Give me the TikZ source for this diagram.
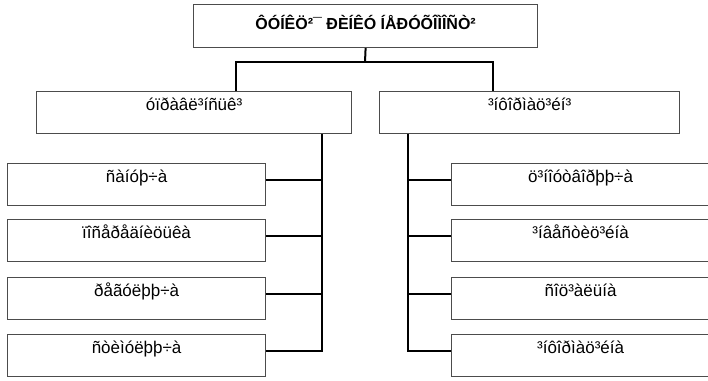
\documentclass[tikz,border=0pt]{standalone}
\usepackage{fontspec}
\setmainfont{Liberation Sans}
\usetikzlibrary{calc}
\tikzset{
  boxbase/.style={draw=black!70, line width=1.2pt, fill=white, inner sep=0pt, anchor=north west, align=center},
  titlebox/.style={boxbase, font=\fontsize{16}{19}\selectfont\bfseries, text height=24.5pt, text depth=18.5pt},
  midbox/.style={boxbase, font=\fontsize{17}{20}\selectfont, text height=19pt, text depth=23pt},
  leafbox/.style={boxbase, font=\fontsize{17}{20}\selectfont, text height=19pt, text depth=23pt},
  conn/.style={draw=black, line width=2pt}
}
\begin{document}
\begin{tikzpicture}[x=1pt,y=-1pt]
\useasboundingbox (0,0) rectangle (708,380);
\clip (0,0) rectangle (708,380);
\fill[white] (0,0) rectangle (708,380);

% top
\node[titlebox, minimum width=344pt] (top) at (193,4) {ÔÓÍÊÖ²¯ ÐÈÍÊÓ ÍÅÐÓÕÎÌÎÑÒ²};
% level 2
\node[midbox, minimum width=315pt] (lbox) at (36,91) {óïðàâë³íñüê³};
\node[midbox, minimum width=300pt] (rbox) at (379,91) {³íôîðìàö³éí³};
% left leaves
\node[leafbox, minimum width=258pt] (l1) at (7,163) {ñàíóþ÷à};
\node[leafbox, minimum width=258pt] (l2) at (7,219) {ïîñåðåäíèöüêà};
\node[leafbox, minimum width=258pt] (l3) at (7,277) {ðåãóëþþ÷à};
\node[leafbox, minimum width=258pt] (l4) at (7,334) {ñòèìóëþþ÷à};
% right leaves
\node[leafbox, minimum width=258pt] (r1) at (451,163) {ö³íîóòâîðþþ÷à};
\node[leafbox, minimum width=258pt] (r2) at (451,219) {³íâåñòèö³éíà};
\node[leafbox, minimum width=258pt] (r3) at (451,277) {ñîö³àëüíà};
\node[leafbox, minimum width=258pt] (r4) at (451,334) {³íôîðìàö³éíà};

% connectors from top
\coordinate (jn) at (365,62);
\coordinate (lbx) at (236,0);
\coordinate (rbx) at (493,0);
\draw[conn] (top.south) -- (jn);
\draw[conn] (lbox.north -| lbx) |- (jn) -| (rbox.north -| rbx);

% left stem
\coordinate (lsx) at (322,0);
\draw[conn] (lbox.south -| lsx) |- (l4.mid east);
\draw[conn] (l1.mid east) -- (l1.mid east -| lsx);
\draw[conn] (l2.mid east) -- (l2.mid east -| lsx);
\draw[conn] (l3.mid east) -- (l3.mid east -| lsx);

% right stem
\coordinate (rsx) at (408,0);
\draw[conn] (rbox.south -| rsx) |- (r4.mid west);
\draw[conn] (r1.mid west) -- (r1.mid west -| rsx);
\draw[conn] (r2.mid west) -- (r2.mid west -| rsx);
\draw[conn] (r3.mid west) -- (r3.mid west -| rsx);
\end{tikzpicture}
\end{document}
